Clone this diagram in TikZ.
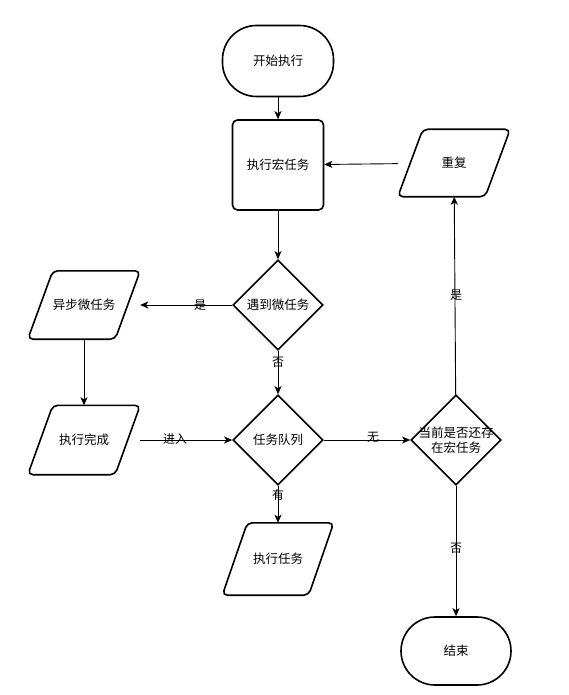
\documentclass[tikz,border=0pt]{standalone}
\usepackage{fontspec}
\newfontfamily\cjk{Noto Sans CJK SC}
\usetikzlibrary{shapes.geometric,arrows.meta,calc}
\begin{document}
\begin{tikzpicture}[x=1pt,y=1pt,
  every node/.style={font=\cjk\fontsize{12.5}{15}\selectfont},
  shp/.style={draw=black,line width=1.6pt},
  term/.style={shp,rectangle,rounded corners=34pt,minimum width=111pt,minimum height=71pt,inner sep=0pt},
  procbox/.style={shp,rectangle,rounded corners=5pt,minimum width=91pt,minimum height=90pt,inner sep=0pt},
  dia/.style={shp,diamond,minimum width=90pt,minimum height=90pt,inner sep=0pt},
  parabox/.style={rectangle,draw=none,minimum width=112pt,minimum height=68pt,inner sep=0pt},
  conn/.style={draw=black,line width=0.9pt,-{Stealth[length=8pt,width=7pt,inset=2pt]}},
  lbl/.style={font=\cjk\fontsize{12}{14}\selectfont,inner sep=1pt}
]
\newcommand{\parashape}[1]{%
  \draw[shp,rounded corners=5pt] (#1.south west) -- ($(#1.north west)+(25pt,0)$) -- (#1.north east) -- ($(#1.south east)-(25pt,0)$) -- cycle;}
\useasboundingbox (0,0) rectangle (568,-695);

\node[term] (start) at (278,-61) {开始执行};
\node[procbox] (macro) at (278,-165) {执行宏任务};
\node[dia] (d1) at (278,-305) {遇到微任务};
\node[dia] (d2) at (278,-440) {任务队列};
\node[dia] (d3) at (456,-440) {};
\node[inner sep=0pt,align=center,font=\cjk\fontsize{12.5}{15}\selectfont] (d3t) at (456,-440) {当前是否还存\\在宏任务};

\node[parabox] (async) at (84,-305) {异步微任务};
\node[parabox,minimum height=69pt] (done) at (84,-440) {执行完成};
\node[parabox,minimum height=72pt,minimum width=111pt] (task) at (278,-559) {执行任务};
\node[parabox,minimum height=67pt] (rep) at (454,-163) {重复};
\parashape{async}
\parashape{done}
\parashape{task}
\parashape{rep}
\node[term,minimum width=110pt,minimum height=68pt] (end) at (456,-651) {结束};

\draw[conn] (start) -- (macro);
\draw[conn] (macro) -- (d1);
\draw[conn] (d1) -- (async);
\draw[conn] (d1) -- (d2);
\draw[conn] (async) -- (done);
\draw[conn] (done) -- (d2);
\draw[conn] (d2) -- (d3);
\draw[conn] (d2) -- (task);
\draw[conn] (d3) -- (rep);
\draw[conn] (rep) -- (macro);
\draw[conn] (d3) -- (end);

\node[lbl] (l1) at (200,-305) {是};
\node[lbl] (l2) at (278,-362) {否};
\node[lbl] (l3) at (175,-439) {进入};
\node[lbl] (l4) at (373,-437) {无};
\node[lbl] (l5) at (278,-495) {有};
\node[lbl] (l6) at (456,-295) {是};
\node[lbl] (l7) at (456,-548) {否};
\end{tikzpicture}
\end{document}
